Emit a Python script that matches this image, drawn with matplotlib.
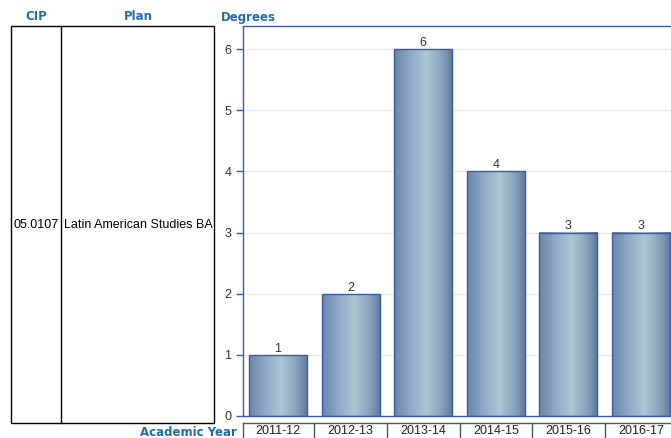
import numpy as np
import matplotlib.pyplot as plt
from matplotlib.colors import LinearSegmentedColormap
from matplotlib.patches import Rectangle

years = ['2011-12', '2012-13', '2013-14', '2014-15', '2015-16', '2016-17']
degrees = [1, 2, 6, 4, 3, 3]
cip = '05.0107'
plan = 'Latin American Studies BA'

W, H = 671, 438
fig = plt.figure(figsize=(W / 100, H / 100), dpi=100)

def fx(px):
    return px / W

def fy(py):
    return 1 - py / H

blue = '#1f6cb0'
edge = '#3a5aa8'

# header texts
fig.text(fx(36), fy(17), 'CIP', color=blue, fontsize=8.5, fontweight='bold', ha='center', va='center')
fig.text(fx(138), fy(17), 'Plan', color=blue, fontsize=8.5, fontweight='bold', ha='center', va='center')
fig.text(fx(221), fy(17), 'Degrees', color=blue, fontsize=8.5, fontweight='bold', ha='left', va='center')
fig.text(fx(237), fy(432), 'Academic Year', color=blue, fontsize=8.5, fontweight='bold', ha='right', va='center')

# left table
tab = fig.add_axes([0, 0, 1, 1])
tab.set_xlim(0, W)
tab.set_ylim(H, 0)
tab.axis('off')
tab.add_patch(Rectangle((11, 26), 203, 397, fill=False, ec='black', lw=1))
tab.plot([61, 61], [26, 423], color='black', lw=1)
tab.text(36, 225, cip, fontsize=9, family='Liberation Sans', ha='center', va='center')
tab.text(138, 225, plan, fontsize=9, family='Liberation Sans', ha='center', va='center')

# chart axes
x0, x1 = 243, 676
ax = fig.add_axes([fx(x0), fy(416), fx(x1 - x0), (416 - 26) / H])
x = np.arange(len(years))
ax.set_xlim(-0.483, len(years) - 1 + 0.483)
ymax = 6 + 23 / ((416 - 49) / 6)
ax.set_ylim(0, ymax)

cmap = LinearSegmentedColormap.from_list('g', [
    (0.0, '#6b86a8'), (0.25, '#8aa6c6'), (0.55, '#aec8d6'),
    (0.82, '#86a0bb'), (1.0, '#5f7898')])
grad = np.linspace(0, 1, 256).reshape(1, -1)

bars = ax.bar(x, degrees, width=0.8, color='none', edgecolor=edge, lw=1, zorder=3)
for b in bars:
    bx, by = b.get_x(), b.get_y()
    bw, bh = b.get_width(), b.get_height()
    im = ax.imshow(grad, cmap=cmap, aspect='auto', extent=[bx, bx + bw, by, by + bh],
                   zorder=2, interpolation='bilinear')
    im.set_clip_path(b)
    ax.text(bx + bw / 2, bh, str(int(bh)), ha='center', va='bottom', fontsize=9,
            family='Liberation Sans', color='#333333')

ax.set_yticks(range(0, 7))
ax.yaxis.grid(True, color='#e8e8e8', lw=0.8, zorder=0)
ax.set_axisbelow(True)
ax.tick_params(axis='y', colors=edge, labelcolor='#333333', labelsize=9, length=5, width=1)
for lab in ax.get_yticklabels():
    lab.set_family('Liberation Sans')
ax.set_xticks([])
for s in ax.spines.values():
    s.set_color(edge)
    s.set_linewidth(1)

# x tick label boxes
lab_ax = fig.add_axes([fx(x0), 0, fx(x1 - x0), (438 - 423) / H])
lab_ax.set_xlim(ax.get_xlim())
lab_ax.set_ylim(0, 1)
lab_ax.axis('off')
lab_ax.plot([-0.483, len(years)], [1, 1], color='#555555', lw=1, clip_on=False)
lab_ax.plot([-0.483, -0.483], [0, 1], color='#555555', lw=1, clip_on=False)
for i in range(len(years)):
    lab_ax.plot([i + 0.5, i + 0.5], [0, 1], color='#555555', lw=1, clip_on=False)
    lab_ax.text(i, 0.45, years[i], ha='center', va='center', fontsize=9,
                family='Liberation Sans', color='#222222')

fig.savefig('out.png', dpi=100)
